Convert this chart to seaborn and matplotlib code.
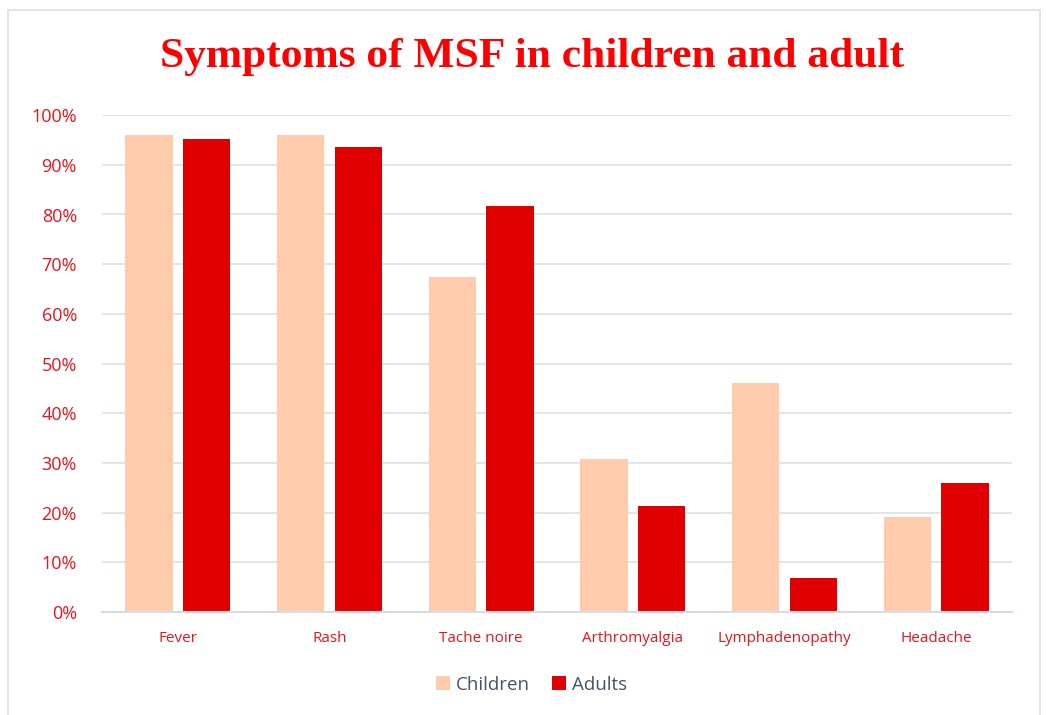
import numpy as np
import pandas as pd
import matplotlib
matplotlib.use("Agg")
import matplotlib.pyplot as plt
import seaborn as sns
from matplotlib.patches import Rectangle
from matplotlib.ticker import PercentFormatter

# Data
symptoms = ["Fever", "Rash", "Tache noire", "Arthromyalgia", "Lymphadenopathy", "Headache"]
children = [0.960, 0.960, 0.674, 0.308, 0.461, 0.191]
adults = [0.952, 0.936, 0.817, 0.213, 0.068, 0.259]
groups = ["Children", "Adults"]

df = pd.DataFrame({
    "symptom": symptoms * 2,
    "group": ["Children"] * len(symptoms) + ["Adults"] * len(symptoms),
    "value": children + adults,
})

sns.set_theme(style="white")
plt.rcParams["font.family"] = ["Open Sans", "DejaVu Sans"]

red_text = "#E8141B"
palette = {"Children": "#FFCBAD", "Adults": "#E00000"}

fig = plt.figure(figsize=(10.46, 7.15), dpi=100)
ax = fig.add_axes([0.0975, 0.144, 0.8700, 0.695])

sns.barplot(data=df, x="symptom", y="value", hue="group", hue_order=groups,
            palette=palette, saturation=1, width=0.76, gap=0.18, ax=ax,
            edgecolor="none", legend=True)

ax.set_ylim(0, 1.0)
ax.set_yticks(np.arange(0, 1.01, 0.1))
ax.yaxis.set_major_formatter(PercentFormatter(1.0, decimals=0))
ax.set_xlabel("")
ax.set_ylabel("")
ax.grid(axis="y", color="#DCE2EA", linewidth=1.2)
ax.set_axisbelow(True)
for s in ["top", "right", "left"]:
    ax.spines[s].set_visible(False)
ax.spines["bottom"].set_color("#D5DCE4")
ax.spines["bottom"].set_linewidth(1.5)
ax.tick_params(axis="y", colors=red_text, labelsize=13, length=0, pad=18)
ax.tick_params(axis="x", colors=red_text, labelsize=11, length=0, pad=14)

handles, labels = ax.get_legend_handles_labels()
ax.legend(handles, labels, loc="center", bbox_to_anchor=(0.508, 0.0425),
          bbox_transform=fig.transFigure, ncol=2, frameon=False,
          fontsize=13.5, handlelength=0.75, handleheight=0.75,
          handletextpad=0.3, columnspacing=1.2, labelcolor="#44546A")

fig.suptitle("Symptoms of MSF in children and adult", x=0.509, y=0.92,
             va="center", fontsize=31.3, fontweight="bold", color="#FF0000",
             family="Liberation Serif")

fig.patches.append(Rectangle((8 / 1046, -0.01), 1032 / 1046, 1 - 10 / 715 + 0.01,
                             transform=fig.transFigure, fill=False,
                             edgecolor="#D9E0E8", linewidth=1.2))

fig.savefig("out.png", dpi=100)
